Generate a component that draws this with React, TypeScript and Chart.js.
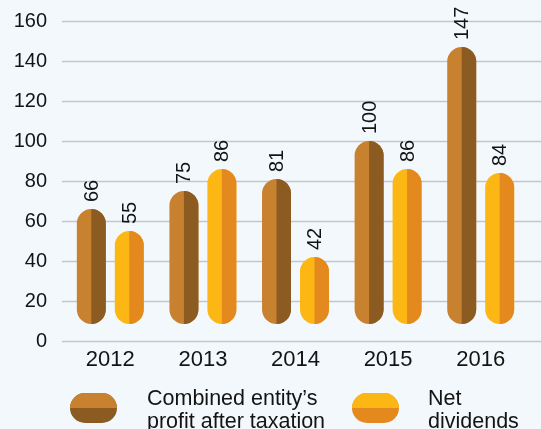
import React, { useEffect, useRef } from "react";
import { Chart, registerables } from "chart.js";

Chart.register(...registerables);

const categories = ["2012", "2013", "2014", "2015", "2016"];
const profitValues = [66, 75, 81, 100, 147];
const dividendValues = [55, 86, 42, 86, 84];
const yTickValues = [0, 20, 40, 60, 80, 100, 120, 140, 160];
const profitLegend = ["Combined entity\u2019s", "profit after taxation"];
const dividendLegend = ["Net", "dividends"];
const BAR_BASE = 8.5;

const FONT = '"Liberation Sans", Arial, Helvetica, sans-serif';
const lightColors = ["#C8812F", "#FDB714"];
const darkColors = ["#8B5B22", "#E3891E"];

const gridPlugin = {
  id: "fullGrid",
  beforeDatasetsDraw(chart: any) {
    const ctx = chart.ctx;
    const yScale = chart.scales.y;
    ctx.save();
    ctx.strokeStyle = "#C3C7CB";
    ctx.lineWidth = 1.5;
    yTickValues.forEach((v) => {
      const y = Math.round(yScale.getPixelForValue(v)) + 0.5;
      ctx.beginPath();
      ctx.moveTo(chart.chartArea.left - 2, y);
      ctx.lineTo(chart.width, y);
      ctx.stroke();
    });
    ctx.restore();
  },
};

const twoTonePlugin = {
  id: "twoTone",
  afterDatasetsDraw(chart: any) {
    const ctx = chart.ctx;
    chart.data.datasets.forEach((ds: any, di: number) => {
      const meta = chart.getDatasetMeta(di);
      meta.data.forEach((el: any, i: number) => {
        const { x, y, base, width } = el.getProps(["x", "y", "base", "width"], true);
        const top = Math.min(y, base);
        const h = Math.abs(base - y);
        const r = Math.min(width / 2, h / 2);
        ctx.save();
        ctx.beginPath();
        ctx.rect(x, top - 2, width / 2 + 2, h + 4);
        ctx.clip();
        ctx.beginPath();
        ctx.roundRect(x - width / 2, top, width, h, r);
        ctx.fillStyle = darkColors[di];
        ctx.fill();
        ctx.restore();

        ctx.save();
        ctx.translate(x, top - 7);
        ctx.rotate(-Math.PI / 2);
        ctx.font = `20px ${FONT}`;
        ctx.textAlign = "left";
        ctx.textBaseline = "middle";
        ctx.fillStyle = "#141414";
        ctx.fillText(String(ds.data[i]), 0, 1);
        ctx.restore();
      });
    });
  },
};

const legendPlugin = {
  id: "pillLegend",
  afterDraw(chart: any) {
    const ctx = chart.ctx;
    const items = [
      { x: 70, tx: 147, lines: profitLegend, i: 0 },
      { x: 352, tx: 428, lines: dividendLegend, i: 1 },
    ];
    const iy = 393;
    const iw = 47;
    const ih = 30;
    items.forEach((it) => {
      ctx.save();
      ctx.beginPath();
      ctx.roundRect(it.x, iy, iw, ih, ih / 2);
      ctx.fillStyle = darkColors[it.i];
      ctx.fill();
      ctx.beginPath();
      ctx.rect(it.x - 1, iy - 1, iw + 2, ih / 2 + 1);
      ctx.clip();
      ctx.beginPath();
      ctx.roundRect(it.x, iy, iw, ih, ih / 2);
      ctx.fillStyle = lightColors[it.i];
      ctx.fill();
      ctx.restore();

      ctx.save();
      ctx.font = `21.5px ${FONT}`;
      ctx.fillStyle = "#141414";
      ctx.textAlign = "left";
      ctx.textBaseline = "alphabetic";
      it.lines.forEach((line, k) => {
        ctx.fillText(line, it.tx, 405 + k * 22.5);
      });
      ctx.restore();
    });
  },
};

export default function App() {
  const ref = useRef<HTMLCanvasElement | null>(null);

  useEffect(() => {
    if (!ref.current) return;
    const chart = new Chart(ref.current, {
      type: "bar",
      data: {
        labels: categories,
        datasets: [
          {
            label: profitLegend.join(" "),
            data: profitValues,
            base: BAR_BASE,
            backgroundColor: lightColors[0],
            borderRadius: 100,
            borderSkipped: false,
            categoryPercentage: 0.82,
            barPercentage: 0.763,
          } as any,
          {
            label: dividendLegend.join(" "),
            data: dividendValues,
            base: BAR_BASE,
            backgroundColor: lightColors[1],
            borderRadius: 100,
            borderSkipped: false,
            categoryPercentage: 0.82,
            barPercentage: 0.763,
          } as any,
        ],
      },
      options: {
        responsive: false,
        animation: false,
        layout: { padding: { top: 21, right: 14, left: 0, bottom: 0 } },
        plugins: {
          legend: { display: false },
          tooltip: { enabled: false },
        },
        scales: {
          x: {
            grid: { display: false, drawTicks: false },
            border: { display: false },
            ticks: {
              font: { family: FONT, size: 22 },
              color: "#141414",
              padding: 6,
              maxRotation: 0,
            },
            afterFit: (s: any) => {
              s.height = 88;
              s.paddingLeft = 0;
              s.paddingRight = 0;
            },
          },
          y: {
            min: 0,
            max: 160,
            grid: { display: false, drawTicks: false },
            border: { display: false },
            ticks: {
              stepSize: 20,
              font: { family: FONT, size: 20 },
              color: "#141414",
              padding: 17,
            },
            afterFit: (s: any) => {
              s.width = 64;
              s.paddingTop = 0;
              s.paddingBottom = 0;
            },
          },
        },
      },
      plugins: [gridPlugin, twoTonePlugin, legendPlugin],
    });
    return () => chart.destroy();
  }, []);

  return (
    <div
      style={{
        position: "fixed",
        left: 0,
        top: 0,
        width: 541,
        height: 429,
        background: "#F2F8FC",
        overflow: "hidden",
      }}
    >
      <canvas ref={ref} width={541} height={429} style={{ display: "block", width: 541, height: 429 }} />
    </div>
  );
}
